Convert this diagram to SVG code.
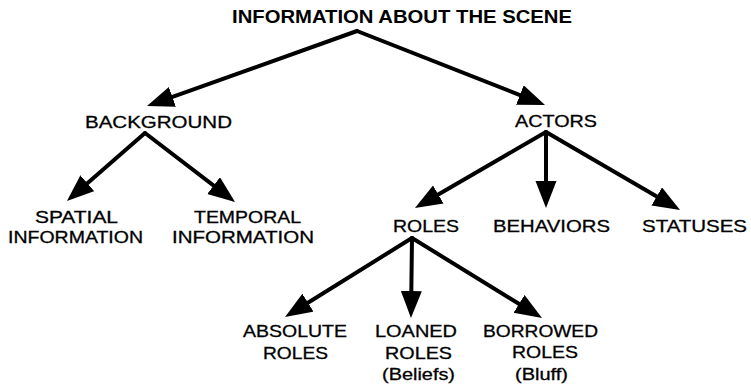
<svg xmlns="http://www.w3.org/2000/svg" width="751" height="388" viewBox="0 0 751 388">
<style>
  text { font-family: "Liberation Sans", Arial, Helvetica, sans-serif; font-size: 17px; fill: #000; stroke: #000; stroke-width: 0.3; text-anchor: middle; }
  .title { font-weight: bold; font-size: 19px; stroke-width: 0; }
  .edge { stroke: #000; stroke-width: 4; fill: none; stroke-linecap: round; marker-end: url(#arrow); }
</style>
<defs>
  <marker id="arrow" markerUnits="userSpaceOnUse" markerWidth="28" markerHeight="22" refX="17" refY="10.5" orient="auto" viewBox="0 0 28 22">
    <path d="M0,0 L27,10.5 L0,21 z" fill="#000"/>
  </marker>
</defs>
<rect width="751" height="388" fill="#fff"/>
<g id="connectors">
  <line class="edge" x1="357" y1="31" x2="156.4" y2="102.6"/>
  <line class="edge" x1="357" y1="31" x2="535.7" y2="101.3"/>
  <line class="edge" x1="145" y1="133" x2="74.5" y2="194.4"/>
  <line class="edge" x1="145" y1="133" x2="227.1" y2="195.9"/>
  <line class="edge" x1="546" y1="132" x2="423.6" y2="203"/>
  <line class="edge" x1="546" y1="132" x2="546" y2="198"/>
  <line class="edge" x1="546" y1="132" x2="671.4" y2="205"/>
  <line class="edge" x1="412" y1="238" x2="293.5" y2="311.7"/>
  <line class="edge" x1="412" y1="238" x2="411.1" y2="308"/>
  <line class="edge" x1="412" y1="238" x2="533.5" y2="312.8"/>
</g>
<g id="node-scene"><text class="title" x="402" y="23" textLength="340" lengthAdjust="spacingAndGlyphs">INFORMATION ABOUT THE SCENE</text></g>
<g id="node-background"><text x="158.5" y="128" textLength="147" lengthAdjust="spacingAndGlyphs">BACKGROUND</text></g>
<g id="node-actors"><text x="556" y="127" textLength="82" lengthAdjust="spacingAndGlyphs">ACTORS</text></g>
<g id="node-spatial">
  <text x="76.5" y="223" textLength="83" lengthAdjust="spacingAndGlyphs">SPATIAL</text>
  <text x="75.5" y="243" textLength="135" lengthAdjust="spacingAndGlyphs">INFORMATION</text>
</g>
<g id="node-temporal">
  <text x="247.5" y="223" textLength="107" lengthAdjust="spacingAndGlyphs">TEMPORAL</text>
  <text x="243" y="243" textLength="142" lengthAdjust="spacingAndGlyphs">INFORMATION</text>
</g>
<g id="node-roles"><text x="426" y="232" textLength="66" lengthAdjust="spacingAndGlyphs">ROLES</text></g>
<g id="node-behaviors"><text x="551.5" y="232" textLength="117" lengthAdjust="spacingAndGlyphs">BEHAVIORS</text></g>
<g id="node-statuses"><text x="694.5" y="232" textLength="105" lengthAdjust="spacingAndGlyphs">STATUSES</text></g>
<g id="node-absolute">
  <text x="295" y="337" textLength="104" lengthAdjust="spacingAndGlyphs">ABSOLUTE</text>
  <text x="295.5" y="359" textLength="65" lengthAdjust="spacingAndGlyphs">ROLES</text>
</g>
<g id="node-loaned">
  <text x="416" y="337" textLength="82" lengthAdjust="spacingAndGlyphs">LOANED</text>
  <text x="418.5" y="359" textLength="67" lengthAdjust="spacingAndGlyphs">ROLES</text>
  <text x="418.5" y="380" textLength="73" lengthAdjust="spacingAndGlyphs">(Beliefs)</text>
</g>
<g id="node-borrowed">
  <text x="540.5" y="337" textLength="115" lengthAdjust="spacingAndGlyphs">BORROWED</text>
  <text x="545" y="358" textLength="66" lengthAdjust="spacingAndGlyphs">ROLES</text>
  <text x="541.5" y="380" textLength="53" lengthAdjust="spacingAndGlyphs">(Bluff)</text>
</g>
</svg>
